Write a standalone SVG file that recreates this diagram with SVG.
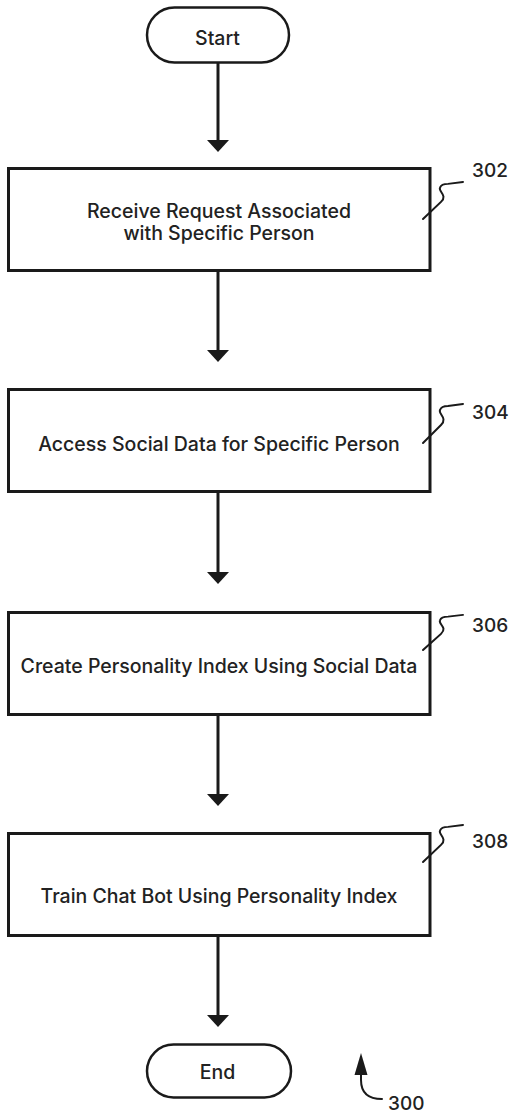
<svg xmlns="http://www.w3.org/2000/svg" width="510" height="1114" viewBox="0 0 510 1114">
  <style>
    .box { fill: #fff; stroke: #1a1a1a; stroke-width: 3; }
    .pill { fill: #fff; stroke: #1a1a1a; stroke-width: 2.5; }
    .lbl { font-family: Inter, "Liberation Sans", sans-serif; font-size: 19.5px; font-weight: 500; fill: #222; text-anchor: middle; }
    .ref { font-family: Inter, "Liberation Sans", sans-serif; font-size: 19px; font-weight: 500; fill: #222; }
    .flow { stroke: #1a1a1a; stroke-width: 3; fill: none; marker-end: url(#head); }
    .lead { stroke: #1a1a1a; stroke-width: 2; fill: none; stroke-linecap: round; }
  </style>
  <defs>
    <marker id="head" viewBox="0 0 12 22" markerWidth="12" markerHeight="22" markerUnits="userSpaceOnUse" refX="0" refY="11" orient="auto">
      <path d="M0,0 L12,11 L0,22 Z" fill="#1a1a1a"/>
    </marker>
    <path id="squiggle" d="m0,0 l18,-18 c7,-7 -3,-11 -1,-15 c1,-3 5,-4 8,-4 l15,-2"/>
  </defs>
  <rect width="510" height="1114" fill="#fff"/>

  <g id="connectors">
    <line class="flow" x1="218" y1="62" x2="218" y2="140"/>
    <line class="flow" x1="218" y1="271" x2="218" y2="350"/>
    <line class="flow" x1="218" y1="493" x2="218" y2="572"/>
    <line class="flow" x1="218" y1="715" x2="218" y2="794"/>
    <line class="flow" x1="218" y1="936" x2="218" y2="1015"/>
  </g>

  <g id="start">
    <rect class="pill" x="147" y="7.5" width="142" height="55" rx="27.5"/>
    <text class="lbl" x="217.5" y="45">Start</text>
  </g>

  <g id="step302">
    <rect class="box" x="8.5" y="168.5" width="421.5" height="102"/>
    <text class="lbl" x="219" y="218">Receive Request Associated</text>
    <text class="lbl" x="219" y="240">with Specific Person</text>
    <use href="#squiggle" class="lead" transform="translate(423,219) scale(1,0.95)"/>
    <text class="ref" x="472" y="177">302</text>
  </g>

  <g id="step304">
    <rect class="box" x="8.5" y="389.5" width="421.5" height="102"/>
    <text class="lbl" x="219" y="451">Access Social Data for Specific Person</text>
    <use href="#squiggle" class="lead" transform="translate(423,443)"/>
    <text class="ref" x="472" y="419">304</text>
  </g>

  <g id="step306">
    <rect class="box" x="8.5" y="612.5" width="421.5" height="102"/>
    <text class="lbl" x="219" y="673">Create Personality Index Using Social Data</text>
    <use href="#squiggle" class="lead" transform="translate(423,650) scale(1,0.9)"/>
    <text class="ref" x="472" y="632">306</text>
  </g>

  <g id="step308">
    <rect class="box" x="8.5" y="833.5" width="421.5" height="102"/>
    <text class="lbl" x="219" y="903">Train Chat Bot Using Personality Index</text>
    <use href="#squiggle" class="lead" transform="translate(423,862) scale(1,0.95)"/>
    <text class="ref" x="472" y="848">308</text>
  </g>

  <g id="end">
    <rect class="pill" x="147" y="1044.5" width="144" height="53" rx="26.5"/>
    <text class="lbl" x="217.5" y="1079">End</text>
  </g>

  <g id="ref300">
    <path class="lead" d="M382,1099 C370,1099 361,1094 361,1080 L361,1074" stroke-width="2.5"/>
    <path d="M354.5,1075 L361,1053 L367.5,1075 Z" fill="#1a1a1a"/>
    <text class="ref" x="388" y="1110">300</text>
  </g>
</svg>
